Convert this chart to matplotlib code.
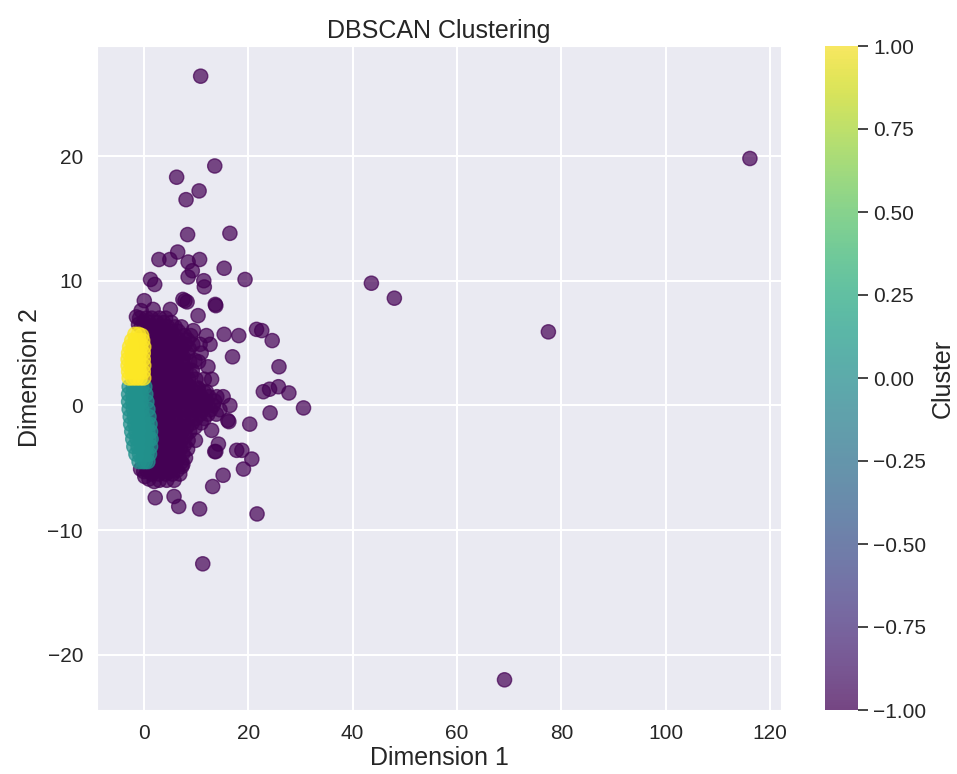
import numpy as np
import matplotlib
matplotlib.use("Agg")
import matplotlib.pyplot as plt
import seaborn as sns

# DBSCAN output: 2D embedding coordinates and cluster labels (-1 = noise)

# noise points (label -1), dense core first
noise_x = [
    -0.8, 0.5, 1.5, 3.0, 4.2,
    -0.5, 0.8, 2.0, 3.3, 4.6, 6.0, 7.2,
    0.3, 1.2, 2.4, 3.6, 4.8, 5.9, 7.8, 9.0,
    0.6, 1.7, 2.8, 4.0, 5.2, 6.5, 8.0, 9.4, 10.8,
    0.8, 1.9, 3.1, 4.4, 5.6, 6.8, 8.3, 11.0,
    0.9, 2.0, 3.2, 4.5, 5.7, 7.4, 8.8, 10.5,
    0.8, 1.9, 3.0, 4.3, 5.5, 6.6, 8.1, 9.3,
    1.0, 2.2, 3.4, 4.6, 5.8, 7.0, 8.6, 10.0, 11.6, 13.0,
    1.6, 2.7, 3.9, 5.1, 6.3, 7.6, 9.0, 10.4,
    1.8, 3.0, 4.2, 5.5, 6.8, 8.2, 9.6, 11.0, 12.5, 14.0, 15.2,
    2.0, 3.3, 4.6, 6.0, 7.4, 8.9, 10.3, 11.8, 13.3,
    2.1, 3.4, 4.8, 6.2, 7.7, 9.2, 10.8, 12.3, 13.9,
    2.3, 3.6, 4.9, 6.3, 7.8, 9.3, 11.0,
    2.2, 3.5, 4.8, 6.1, 7.4, 8.8,
    2.0, 3.3, 4.6, 5.9, 7.2, 8.5, 9.9,
    1.8, 3.1, 4.4, 5.7, 7.0, 8.4,
    1.5, 2.8, 4.1, 5.4, 6.6, 8.0,
    0.8, 2.0, 3.3, 4.6, 5.9, 7.3,
    1.6, 2.9, 4.2, 5.5, 6.9,
    3.0, 4.4, 5.8,
    0.0, -0.6, 0.2, 1.0, 2.0,
    -1.4, -0.5, 0.1, -1.0,
    # in-between rows of the core
    0.0, 1.0, 2.5, 3.8, 5.3,
    0.2, 1.4, 2.7, 4.0, 5.3, 6.6,
    0.5, 1.8, 3.0, 4.2, 5.4, 6.7, 8.4,
    0.7, 2.3, 3.5, 4.7, 5.9, 7.3, 8.7,
    0.8, 1.4, 2.6, 3.8, 5.0, 6.2, 7.6,
    0.9, 1.4, 2.6, 3.8, 5.1, 6.3, 7.8,
    1.0, 1.5, 2.6, 3.8, 5.0, 6.2, 7.5, 9.0,
    1.1, 2.1, 3.2, 4.4, 5.6, 6.9, 8.2,
    1.2, 2.2, 3.4, 4.7, 6.0, 7.2, 8.6, 10.0, 11.6,
    1.4, 2.5, 3.7, 5.0, 6.3, 7.6, 9.0, 10.6, 12.0, 13.6,
    1.5, 2.7, 4.0, 5.3, 6.7, 8.1, 9.6, 11.2, 12.8, 14.6,
    1.6, 2.8, 4.1, 5.5, 7.0, 8.5, 10.0, 11.6,
    1.7, 2.9, 4.2, 5.6, 7.0, 8.2, 9.8,
    1.6, 2.8, 4.1, 5.4, 6.8, 8.0,
    1.6, 2.6, 3.9, 5.2, 6.5, 7.8,
    1.4, 2.4, 3.7, 5.0, 6.3, 7.5,
    1.1, 2.2, 3.5, 4.8, 6.0, 7.2,
    0.6, 1.3, 2.5, 3.8, 5.2, 6.4,
    # scattered points around the core
    10.9, 116.1, 43.6, 48.0, 77.5, 69.1, 11.3, 21.7,
    13.6, 6.3, 10.6, 8.1, 8.4, 16.5,
    6.5, 2.9, 5.0, 8.5, 10.7, 15.4, 9.3, 8.5, 11.5, 11.6, 19.4,
    1.3, 2.1, 7.5, 8.3, 13.7, 10.4, 5.1, 1.8,
    15.4, 18.2, 21.6, 22.6, 24.6, 17.0, 25.9, 12.3,
    22.9, 24.1, 25.8, 27.8, 30.6, 12.0, 16.5, 24.2,
    20.3, 16.3, 14.3, 13.8, 18.8, 20.7, 19.1, 15.2, 13.2,
    2.2, 5.8, 6.7, 10.7,
    7.9, 13.8, 9.5, 12.0, 12.7, 9.8, 6.9, 7.5, 10.4,
    16.1, 13.0, 17.8, 13.6, 6.3, 7.5,
]
noise_y = [
    7.0, 7.0, 7.0, 7.0, 7.0,
    6.3, 6.3, 6.3, 6.3, 6.3, 6.3, 6.3,
    5.6, 5.6, 5.6, 5.6, 5.6, 5.6, 5.6, 5.6,
    4.9, 4.9, 4.9, 4.9, 4.9, 4.9, 4.9, 4.9, 4.9,
    4.2, 4.2, 4.2, 4.2, 4.2, 4.2, 4.2, 4.2,
    3.5, 3.5, 3.5, 3.5, 3.5, 3.5, 3.5, 3.5,
    2.8, 2.8, 2.8, 2.8, 2.8, 2.8, 2.8, 2.8,
    2.1, 2.1, 2.1, 2.1, 2.1, 2.1, 2.1, 2.1, 2.1, 2.1,
    1.4, 1.4, 1.4, 1.4, 1.4, 1.4, 1.4, 1.4,
    0.7, 0.7, 0.7, 0.7, 0.7, 0.7, 0.7, 0.7, 0.7, 0.7, 0.7,
    0.0, 0.0, 0.0, 0.0, 0.0, 0.0, 0.0, 0.0, 0.0,
    -0.7, -0.7, -0.7, -0.7, -0.7, -0.7, -0.7, -0.7, -0.7,
    -1.4, -1.4, -1.4, -1.4, -1.4, -1.4, -1.4,
    -2.1, -2.1, -2.1, -2.1, -2.1, -2.1,
    -2.8, -2.8, -2.8, -2.8, -2.8, -2.8, -2.8,
    -3.5, -3.5, -3.5, -3.5, -3.5, -3.5,
    -4.2, -4.2, -4.2, -4.2, -4.2, -4.2,
    -4.9, -4.9, -4.9, -4.9, -4.9, -4.9,
    -5.5, -5.5, -5.5, -5.5, -5.5,
    -6.0, -6.0, -6.0,
    -5.3, -5.1, -5.7, -5.9, -6.1,
    7.1, 7.6, 8.4, 6.5,
    6.65, 6.65, 6.65, 6.65, 6.65,
    5.95, 5.95, 5.95, 5.95, 5.95, 5.95,
    5.25, 5.25, 5.25, 5.25, 5.25, 5.25, 5.25,
    4.55, 4.55, 4.55, 4.55, 4.55, 4.55, 4.55,
    3.85, 3.85, 3.85, 3.85, 3.85, 3.85, 3.85,
    3.15, 3.15, 3.15, 3.15, 3.15, 3.15, 3.15,
    2.45, 2.45, 2.45, 2.45, 2.45, 2.45, 2.45, 2.45,
    1.75, 1.75, 1.75, 1.75, 1.75, 1.75, 1.75,
    1.05, 1.05, 1.05, 1.05, 1.05, 1.05, 1.05, 1.05, 1.05,
    0.35, 0.35, 0.35, 0.35, 0.35, 0.35, 0.35, 0.35, 0.35, 0.35,
    -0.35, -0.35, -0.35, -0.35, -0.35, -0.35, -0.35, -0.35, -0.35, -0.35,
    -1.05, -1.05, -1.05, -1.05, -1.05, -1.05, -1.05, -1.05,
    -1.75, -1.75, -1.75, -1.75, -1.75, -1.75, -1.75,
    -2.45, -2.45, -2.45, -2.45, -2.45, -2.45,
    -3.15, -3.15, -3.15, -3.15, -3.15, -3.15,
    -3.85, -3.85, -3.85, -3.85, -3.85, -3.85,
    -4.55, -4.55, -4.55, -4.55, -4.55, -4.55,
    -5.2, -5.2, -5.2, -5.2, -5.2, -5.2,
    26.4, 19.8, 9.8, 8.6, 5.9, -22.0, -12.7, -8.7,
    19.2, 18.3, 17.2, 16.5, 13.7, 13.8,
    12.3, 11.7, 11.7, 11.5, 11.7, 11.0, 10.8, 10.3, 10.0, 9.5, 10.1,
    10.1, 9.7, 8.5, 8.3, 8.1, 7.2, 7.7, 7.7,
    5.7, 5.6, 6.1, 6.0, 5.2, 3.9, 3.1, 3.1,
    1.1, 1.3, 1.5, 1.0, -0.2, 1.1, 0.0, -0.6,
    -1.5, -1.3, -3.1, -3.7, -3.6, -4.3, -5.1, -5.6, -6.5,
    -7.4, -7.3, -8.1, -8.3,
    8.4, 8.0, 6.0, 5.6, 4.9, 3.6, 4.3, 1.7, 1.3,
    -1.2, -2.0, -3.6, -3.7, -4.4, -4.7,
]

# cluster 0
c0_x = [
    -2.8, -2.0, -1.2, -0.4, 0.2,
    -2.9, -2.1, -1.3, -0.5, 0.4,
    -2.9, -2.1, -1.3, -0.5, 0.6,
    -2.8, -2.0, -1.2, -0.4, 0.8,
    -2.6, -1.8, -1.0, -0.2, 1.0,
    -2.5, -1.7, -0.9, -0.1, 0.6, 1.2,
    -2.3, -1.5, -0.7, 0.1, 0.8, 1.3,
    -2.1, -1.3, -0.5, 0.3, 1.0, 1.4,
    -1.9, -1.1, -0.3, 0.5, 1.3,
    -1.5, -0.8, 0.0, 0.6, 1.1,
    -0.9, -0.2, 0.3, 0.8,
]
c0_y = [
    1.5, 1.5, 1.5, 1.5, 1.5,
    0.9, 0.9, 0.9, 0.9, 0.9,
    0.3, 0.3, 0.3, 0.3, 0.3,
    -0.3, -0.3, -0.3, -0.3, -0.3,
    -0.9, -0.9, -0.9, -0.9, -0.9,
    -1.5, -1.5, -1.5, -1.5, -1.5, -1.5,
    -2.1, -2.1, -2.1, -2.1, -2.1, -2.1,
    -2.7, -2.7, -2.7, -2.7, -2.7, -2.7,
    -3.3, -3.3, -3.3, -3.3, -3.3,
    -3.9, -3.9, -3.9, -3.9, -3.9,
    -4.5, -4.5, -4.5, -4.5,
]

# cluster 1
c1_x = [
    -1.7, -1.0, -0.4,
    -2.3, -1.6, -0.9, -0.2,
    -2.7, -2.0, -1.3, -0.6, 0.0,
    -2.9, -2.2, -1.5, -0.8, -0.1,
    -3.0, -2.3, -1.6, -0.9, -0.1,
    -3.0, -2.3, -1.6, -0.9, 0.0,
    -2.9, -2.2, -1.5, -0.8, -0.1,
    -2.8, -2.1, -1.4, -0.7, 0.0,
]
c1_y = [
    5.7, 5.7, 5.6,
    5.2, 5.2, 5.2, 5.2,
    4.7, 4.7, 4.7, 4.7, 4.7,
    4.2, 4.2, 4.2, 4.2, 4.2,
    3.7, 3.7, 3.7, 3.7, 3.7,
    3.2, 3.2, 3.2, 3.2, 3.2,
    2.7, 2.7, 2.7, 2.7, 2.7,
    2.2, 2.2, 2.2, 2.2, 2.2,
]

x = np.array(noise_x + c0_x + c1_x)
y = np.array(noise_y + c0_y + c1_y)
labels = np.array([-1] * len(noise_x) + [0] * len(c0_x) + [1] * len(c1_x))

sns.set_style("darkgrid")
plt.rcParams["font.family"] = ["Liberation Sans", "DejaVu Sans"]

fig = plt.figure(figsize=(9.57, 7.74), dpi=100)
ax = fig.add_axes([97 / 957, 64 / 774, 684 / 957, 664 / 774])
cax = fig.add_axes([825 / 957, 64 / 774, 33 / 957, 664 / 774])

sc = ax.scatter(x, y, c=labels, cmap="viridis", s=105, alpha=0.7)

ax.set_title("DBSCAN Clustering", fontsize=18, color="#262626", pad=6)
ax.set_xlabel("Dimension 1", fontsize=18, color="#262626", labelpad=2)
ax.set_ylabel("Dimension 2", fontsize=18, color="#262626", labelpad=4)
ax.tick_params(labelsize=15, colors="#262626", length=0, pad=10)
ax.grid(color="white", linewidth=1.5)

cb = fig.colorbar(sc, cax=cax)
cb.set_label("Cluster", fontsize=18, color="#262626", labelpad=3)
cb.outline.set_visible(False)
cax.tick_params(labelsize=15, colors="#262626", length=7, width=1.2, pad=4)
cax.grid(False)

fig.savefig("out.png", dpi=100)
